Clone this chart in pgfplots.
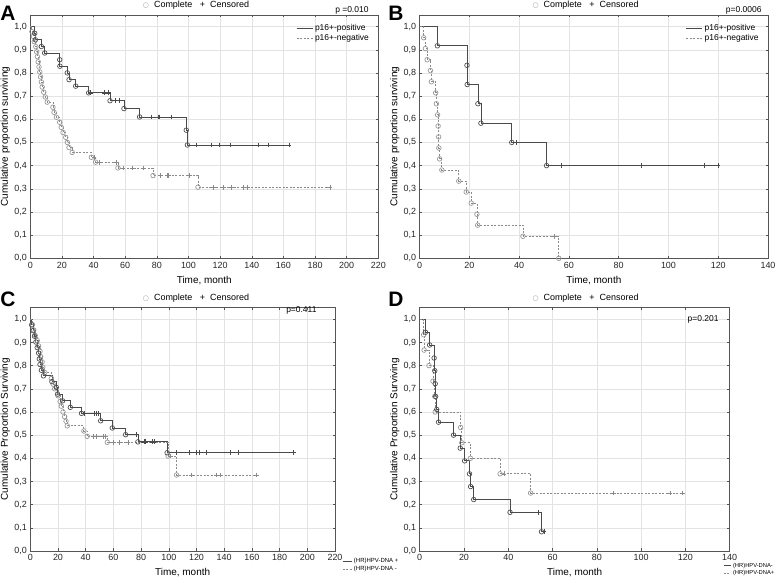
\documentclass[border=0pt]{standalone}
\usepackage{pgfplots}
\pgfplotsset{compat=1.18}
\usepackage{fontspec}
\setmainfont{Liberation Sans}
\newfontfamily\dejavu{DejaVu Sans}
\definecolor{solidc}{HTML}{4A4A4A}
\definecolor{dashc}{HTML}{8A8A8A}
\definecolor{gridc}{HTML}{E3E3E3}
\definecolor{framec}{HTML}{555555}
\definecolor{circc}{HTML}{505050}
\definecolor{circd}{HTML}{999999}
\newcommand{\fs}[1]{\fontsize{#1}{#1}\selectfont}
\pgfplotsset{
  km/.style={
    scale only axis,
    ymin=0, ymax=1.05,
    ytick={0,0.1,0.2,0.3,0.4,0.5,0.6,0.7,0.8,0.9,1},
    yticklabel style={/pgf/number format/.cd, fixed, fixed zerofill, precision=1, use comma},
    /pgf/number format/assume math mode=true,
    grid=major,
    major grid style={gridc, line width=0.5bp},
    axis line style={framec, line width=0.8bp},
    tick style={framec, line width=0.5bp},
    tick align=inside,
    major tick length=2.5bp,
    tick label style={font=\fs{9}, text=black!85},
    label style={font=\fs{9}, text=black!85},
    xlabel={Time, month},
    every axis x label/.style={at={([yshift=-22bp]axis description cs:0.5,0)}, anchor=center},
    every axis y label/.style={at={([xshift=-25bp]axis description cs:0,0.5)}, anchor=center, rotate=90},
    legend image code/.code={\draw[##1, mark=none] (0bp,0bp) -- (16bp,0bp);},
    legend cell align=left,
    clip=false,
  },
  solidline/.style={const plot, mark=none, solidc, line width=0.8bp},
  dashline/.style={const plot, mark=none, dashc, line width=0.8bp, dash pattern=on 2bp off 1.5bp},
  evA/.style={only marks, mark=o, mark size=2.3bp, mark options={circc, line width=0.7bp}, forget plot},
  evB/.style={only marks, mark=o, mark size=2.3bp, mark options={circd, line width=0.7bp}, forget plot},
  cnA/.style={only marks, mark=+, mark size=2.4bp, mark options={solidc, line width=0.6bp}, forget plot},
  cnB/.style={only marks, mark=+, mark size=2.4bp, mark options={dashc, line width=0.6bp}, forget plot},
}
\begin{document}
\begin{tikzpicture}
\path[use as bounding box] (0,0) rectangle (778bp,580bp);

% ---------------- Panel A ----------------
\begin{axis}[km, at={(30.3bp,321.7bp)}, anchor=south west, width=348bp, height=243.3bp,
  xmin=0, xmax=220, xtick={0,20,...,220},
  ylabel={Cumulative proportion surviving},
  legend style={at={(0.988,0.979)}, anchor=north east, draw=none, fill=none, font=\fs{8.5}, row sep=-1.5bp}]
\addplot[solidline] coordinates {(0,1)(2.8,0.971)(3.2,0.943)(7,0.914)(9.1,0.886)(18.6,0.857)(18.7,0.829)(23.4,0.8)(24.5,0.771)(28.7,0.743)(36.9,0.714)(50.4,0.68)(59.2,0.646)(69.1,0.61)(98.6,0.553)(99.3,0.489)(163.5,0.489)};
\addlegendentry{p16+-positive}
\addplot[dashline] coordinates {(0,1)(1,0.978)(2,0.957)(2.5,0.935)(3.5,0.913)(4,0.891)(4.5,0.870)(5,0.848)(5.5,0.826)(6,0.804)(6.5,0.783)(7,0.761)(7.5,0.739)(8.5,0.717)(9.5,0.696)(10.7,0.674)(14.3,0.652)(15,0.630)(16.5,0.609)(18.6,0.587)(19.6,0.565)(20.7,0.543)(22.4,0.522)(23.4,0.500)(24.5,0.478)(26.5,0.457)(38.6,0.436)(41.3,0.415)(55.4,0.39)(77.6,0.357)(106,0.307)(189.4,0.307)};
\addlegendentry{p16+-negative}
\addplot[evB] coordinates {(1,0.978)(2,0.957)(2.5,0.935)(3.5,0.913)(4,0.891)(4.5,0.870)(5,0.848)(5.5,0.826)(6,0.804)(6.5,0.783)(7,0.761)(7.5,0.739)(8.5,0.717)(9.5,0.696)(10.7,0.674)(14.3,0.652)(15,0.630)(16.5,0.609)(18.6,0.587)(19.6,0.565)(20.7,0.543)(22.4,0.522)(23.4,0.500)(24.5,0.478)(26.5,0.457)(38.6,0.436)(41.3,0.415)(55.4,0.39)(77.6,0.357)(106,0.307)};
\addplot[cnB] coordinates {(40.3,0.436)(43.9,0.415)(54.4,0.415)(58.6,0.39)(64.5,0.39)(71.2,0.39)(82.4,0.357)(86.4,0.357)(87.5,0.357)(100.5,0.357)(115.7,0.307)(122,0.307)(127.3,0.307)(134.7,0.307)(137.2,0.307)(189.4,0.307)};
\addplot[evA] coordinates {(2.8,0.971)(3.2,0.943)(7,0.914)(9.1,0.886)(18.6,0.857)(18.7,0.829)(23.4,0.8)(24.5,0.771)(28.7,0.743)(36.9,0.714)(50.4,0.68)(59.2,0.646)(69.1,0.61)(98.6,0.553)(99.3,0.489)};
\addplot[cnA] coordinates {(38,0.714)(47,0.714)(49.1,0.714)(53.7,0.68)(56.5,0.68)(76.5,0.61)(81.2,0.61)(81.7,0.61)(89.1,0.61)(105.2,0.489)(114.2,0.489)(119.5,0.489)(126.7,0.489)(144.1,0.489)(150.4,0.489)(163.5,0.489)};
\end{axis}

% ---------------- Panel B ----------------
\begin{axis}[km, at={(419.7bp,321.7bp)}, anchor=south west, width=348.3bp, height=243.3bp,
  xmin=0, xmax=140, xtick={0,20,...,140},
  ylabel={Cumulative proportion surviving},
  legend style={at={(0.988,0.979)}, anchor=north east, draw=none, fill=none, font=\fs{8.5}, row sep=-1.5bp}]
\addplot[solidline] coordinates {(0,1)(7.1,0.917)(19,0.833)(19.1,0.75)(23.4,0.667)(24.6,0.583)(37,0.5)(51,0.4)(119.9,0.4)};
\addlegendentry{p16+-positive}
\addplot[dashline] coordinates {(0,1)(1.6,0.952)(2.3,0.905)(3.0,0.857)(4.3,0.81)(4.7,0.762)(6.4,0.714)(6.7,0.667)(7.2,0.619)(7.4,0.571)(7.6,0.524)(7.7,0.476)(8,0.429)(8.9,0.381)(15.7,0.333)(18.7,0.286)(20.7,0.238)(23,0.19)(23.3,0.143)(41.5,0.095)(55.9,0)};
\addlegendentry{p16+-negative}
\addplot[evB] coordinates {(1.6,0.952)(2.3,0.905)(3.0,0.857)(4.3,0.81)(4.7,0.762)(6.4,0.714)(6.7,0.667)(7.2,0.619)(7.4,0.571)(7.6,0.524)(7.7,0.476)(8,0.429)(8.9,0.381)(15.7,0.333)(18.7,0.286)(20.7,0.238)(23,0.19)(23.3,0.143)(41.5,0.095)(55.9,0)};
\addplot[cnB] coordinates {(54.3,0.095)};
\addplot[evA] coordinates {(7.1,0.917)(19,0.833)(19.1,0.75)(23.4,0.667)(24.6,0.583)(37,0.5)(51,0.4)};
\addplot[cnA] coordinates {(39,0.5)(56.8,0.4)(89.1,0.4)(114.5,0.4)(119.9,0.4)};
\end{axis}

% ---------------- Panel C ----------------
\begin{axis}[km, at={(30.3bp,29bp)}, anchor=south west, width=304.7bp, height=243.3bp,
  xmin=0, xmax=220, xtick={0,20,...,220},
  ylabel={Cumulative Proportion Surviving},
  legend image code/.code={\draw[#1, mark=none] (0bp,0bp) -- (9bp,0bp);},
  legend style={at={(1.023,-0.022)}, anchor=north west, draw=none, fill=none, font=\fs{6}, row sep=-2bp, inner sep=0pt}]
\addplot[solidline] coordinates {(0,1)(1,0.976)(2,0.951)(3,0.927)(4,0.902)(5,0.878)(6,0.854)(6.5,0.829)(7,0.805)(8,0.780)(9.5,0.756)(15.6,0.731)(18.8,0.706)(19.7,0.677)(23.3,0.648)(28.9,0.62)(37,0.594)(50.8,0.562)(59.2,0.531)(68.8,0.502)(77.7,0.471)(98.8,0.424)(189.8,0.424)};
\addlegendentry{(HR)HPV-DNA +}
\addplot[dashline] coordinates {(0,1)(1.5,0.977)(2.5,0.954)(3.5,0.931)(5,0.908)(6,0.885)(7,0.862)(7.5,0.839)(8.5,0.816)(9,0.793)(10.5,0.77)(15.2,0.745)(16.5,0.72)(17.6,0.70)(20,0.67)(21.5,0.645)(22.4,0.625)(23.6,0.60)(24.8,0.58)(25.8,0.56)(26.7,0.54)(38.7,0.518)(41.1,0.495)(55.6,0.469)(99.5,0.41)(105.6,0.328)(163.3,0.328)};
\addlegendentry{(HR)HPV-DNA -}
\addplot[evB] coordinates {(1.5,0.977)(2.5,0.954)(3.5,0.931)(5,0.908)(6,0.885)(7,0.862)(7.5,0.839)(8.5,0.816)(9,0.793)(10.5,0.77)(15.2,0.745)(16.5,0.72)(17.6,0.70)(20,0.67)(21.5,0.645)(22.4,0.625)(23.6,0.60)(24.8,0.58)(25.8,0.56)(26.7,0.54)(38.7,0.518)(41.1,0.495)(55.6,0.469)(99.5,0.41)(105.6,0.328)};
\addplot[cnB] coordinates {(45.2,0.495)(47.6,0.495)(52.5,0.495)(54.1,0.495)(59.7,0.469)(64.5,0.469)(70.5,0.469)(101,0.41)(116.4,0.328)(134.5,0.328)(137.4,0.328)(163.3,0.328)};
\addplot[evA] coordinates {(1,0.976)(2,0.951)(3,0.927)(4,0.902)(5,0.878)(6,0.854)(6.5,0.829)(7,0.805)(8,0.780)(9.5,0.756)(15.6,0.731)(18.8,0.706)(19.7,0.677)(23.3,0.648)(28.9,0.62)(37,0.594)(50.8,0.562)(59.2,0.531)(68.8,0.502)(77.7,0.471)(98.8,0.424)};
\addplot[cnA] coordinates {(39.2,0.594)(46.5,0.594)(47.6,0.594)(49.3,0.594)(76.6,0.502)(82,0.471)(83,0.471)(87.8,0.471)(89.3,0.471)(105.1,0.424)(114.7,0.424)(120,0.424)(121.9,0.424)(127.3,0.424)(144.1,0.424)(150.1,0.424)(189.8,0.424)};
\end{axis}

% ---------------- Panel D ----------------
\begin{axis}[km, at={(419.7bp,29bp)}, anchor=south west, width=310bp, height=243.3bp,
  xmin=0, xmax=140, xtick={0,20,...,140},
  xticklabels={0,20,40,60,80,100,120,\raisebox{5bp}{140}},
  ylabel={Cumulative Proportion Surviving},
  legend image code/.code={\draw[#1, mark=none] (0bp,0bp) -- (7bp,0bp);},
  legend style={at={(1.151,-0.04)}, anchor=north east, draw=none, fill=none, font=\fs{5.8}, row sep=-2bp, inner sep=0pt}]
\addplot[solidline] coordinates {(0,1)(2.6,0.944)(4.5,0.889)(6.5,0.833)(6.8,0.778)(7,0.722)(7.2,0.667)(7.7,0.611)(8.5,0.556)(15.3,0.5)(18.3,0.444)(20.3,0.389)(22.5,0.333)(23,0.278)(24.4,0.222)(40.8,0.167)(55,0.083)(56.1,0.083)};
\addlegendentry{(HR)HPV-DNA-}
\addplot[dashline] coordinates {(0,1)(1.8,0.933)(2,0.867)(4.2,0.8)(6,0.733)(6.8,0.667)(7,0.6)(18.5,0.533)(19,0.467)(22.9,0.4)(36.3,0.333)(50.1,0.25)(118.5,0.25)};
\addlegendentry{(HR)HPV-DNA+}
\addplot[evB] coordinates {(1.8,0.933)(2,0.867)(4.2,0.8)(6,0.733)(6.8,0.667)(7,0.6)(18.5,0.533)(19,0.467)(22.9,0.4)(36.3,0.333)(50.1,0.25)};
\addplot[cnB] coordinates {(38.1,0.333)(87.5,0.25)(113,0.25)(118.5,0.25)};
\addplot[evA] coordinates {(2.6,0.944)(4.5,0.889)(6.5,0.833)(6.8,0.778)(7,0.722)(7.2,0.667)(7.7,0.611)(8.5,0.556)(15.3,0.5)(18.3,0.444)(20.3,0.389)(22.5,0.333)(23,0.278)(24.4,0.222)(40.8,0.167)(55,0.083)};
\addplot[cnA] coordinates {(53.7,0.167)(56.1,0.083)};
\end{axis}

% ---------------- texts ----------------
\node[font=\bfseries\fs{21}] at (8bp,567bp) {A};
\node[font=\bfseries\fs{21}] at (396bp,567bp) {B};
\node[font=\bfseries\fs{21}] at (8bp,281bp) {C};
\node[font=\bfseries\fs{21}] at (396bp,281bp) {D};
\node[font=\fs{9}] at (196bp,574.5bp) {{\dejavu\fs{7}\textcolor{circd}{○}}\ \ Complete\ \ \ +\ \ Censored};
\node[font=\fs{9}] at (585.5bp,574.5bp) {{\dejavu\fs{7}\textcolor{circd}{○}}\ \ Complete\ \ \ +\ \ Censored};
\node[font=\fs{9}] at (196bp,281.5bp) {{\dejavu\fs{7}\textcolor{circd}{○}}\ \ Complete\ \ \ +\ \ Censored};
\node[font=\fs{9}] at (585.5bp,281.5bp) {{\dejavu\fs{7}\textcolor{circd}{○}}\ \ Complete\ \ \ +\ \ Censored};
\node[font=\fs{8.5}, anchor=east] at (372bp,569.5bp) {p =0.010};
\node[font=\fs{8.5}, anchor=east] at (765bp,569.5bp) {p=0.0006};
\node[font=\fs{8.5}, anchor=east] at (320bp,269.5bp) {p=0.411};
\node[font=\fs{8.5}, anchor=east] at (722bp,261bp) {p=0.201};
\end{tikzpicture}
\end{document}
